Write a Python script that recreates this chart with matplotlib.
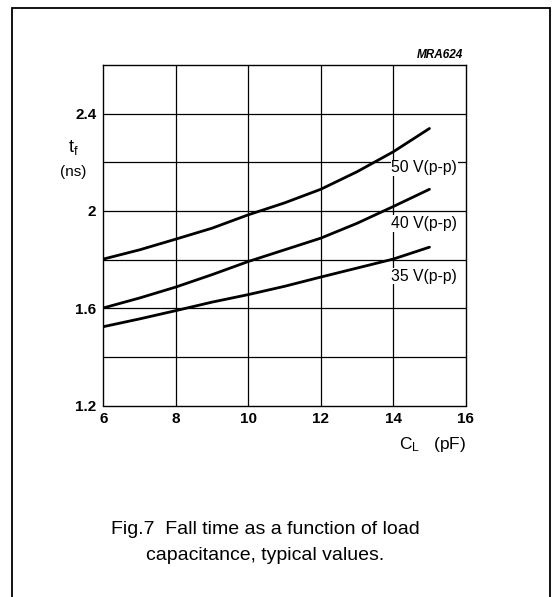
import matplotlib.pyplot as plt
from matplotlib.patches import Rectangle

plt.rcParams['font.family'] = ['Liberation Sans', 'DejaVu Sans']
plt.rcParams['mathtext.fontset'] = 'custom'
plt.rcParams['mathtext.rm'] = 'Liberation Sans'
plt.rcParams['mathtext.it'] = 'Liberation Sans'

# load capacitance (pF) and fall time (ns)
cl = [6, 7, 8, 9, 10, 11, 12, 13, 14, 15]
tf_50 = [1.802, 1.840, 1.884, 1.929, 1.984, 2.033, 2.089, 2.161, 2.243, 2.339]
tf_40 = [1.601, 1.642, 1.687, 1.738, 1.792, 1.840, 1.888, 1.949, 2.018, 2.089]
tf_35 = [1.524, 1.556, 1.590, 1.625, 1.656, 1.690, 1.728, 1.765, 1.802, 1.851]
curve_labels = ['50 V(p-p)', '40 V(p-p)', '35 V(p-p)']
label_y = [2.177, 1.948, 1.731]

x_ticks = [6, 8, 10, 12, 14, 16]
y_ticks = [1.2, 1.6, 2.0, 2.4]
y_tick_labels = ['1.2', '1.6', '2', '2.4']
y_grid = [1.4, 1.6, 1.8, 2.0, 2.2, 2.4]

W, H = 557, 597
fig = plt.figure(figsize=(W / 100, H / 100), dpi=100)
fig.patch.set_facecolor('white')

# outer frame
fig.add_artist(Rectangle((12 / W, -0.05), (550 - 12) / W, 1.05 - 8 / H,
                         transform=fig.transFigure, fill=False,
                         edgecolor='black', lw=1.3))

ax = fig.add_axes([103.3 / W, 1 - 405.5 / H, 362.4 / W, 340.5 / H])
ax.set_xlim(6, 16)
ax.set_ylim(1.2, 2.6)

for x in x_ticks[1:-1]:
    ax.axvline(x, color='black', lw=0.9, zorder=1)
for y in y_grid:
    ax.axhline(y, color='black', lw=0.9, zorder=1)

for series in (tf_50, tf_40, tf_35):
    ax.plot(cl, series, color='black', lw=2.0, solid_capstyle='round',
            solid_joinstyle='round', zorder=3)

for text, y in zip(curve_labels, label_y):
    ax.text(13.95, y, text, fontsize=11.3, ha='left', va='center', zorder=4,
            bbox=dict(facecolor='white', edgecolor='none', pad=0.5))

ax.set_xticks(x_ticks)
ax.set_xticklabels([str(v) for v in x_ticks], fontsize=11, fontweight='bold')
ax.set_yticks(y_ticks)
ax.set_yticklabels(y_tick_labels, fontsize=11, fontweight='bold')
ax.tick_params(length=0, pad=5)
for s in ax.spines.values():
    s.set_linewidth(1.0)

fig.text(73 / W, 1 - 147 / H, r'$\mathrm{t_f}$', fontsize=13, ha='center', va='center')
fig.text(73 / W, 1 - 172 / H, '(ns)', fontsize=11, ha='center', va='center')
fig.text(466 / W, 1 - 445 / H, r'$\mathrm{C_L}$   (pF)', fontsize=12.5, ha='right', va='center')
fig.text(463 / W, 1 - 55 / H, 'MRA624', fontsize=8.5, fontweight='bold',
         fontstyle='italic', ha='right', va='center')

fig.text(265 / W, 1 - 530 / H, 'Fig.7  Fall time as a function of load',
         fontsize=14, ha='center', va='center')
fig.text(265 / W, 1 - 555 / H, 'capacitance, typical values.',
         fontsize=14, ha='center', va='center')

fig.savefig('out.png', dpi=100)
